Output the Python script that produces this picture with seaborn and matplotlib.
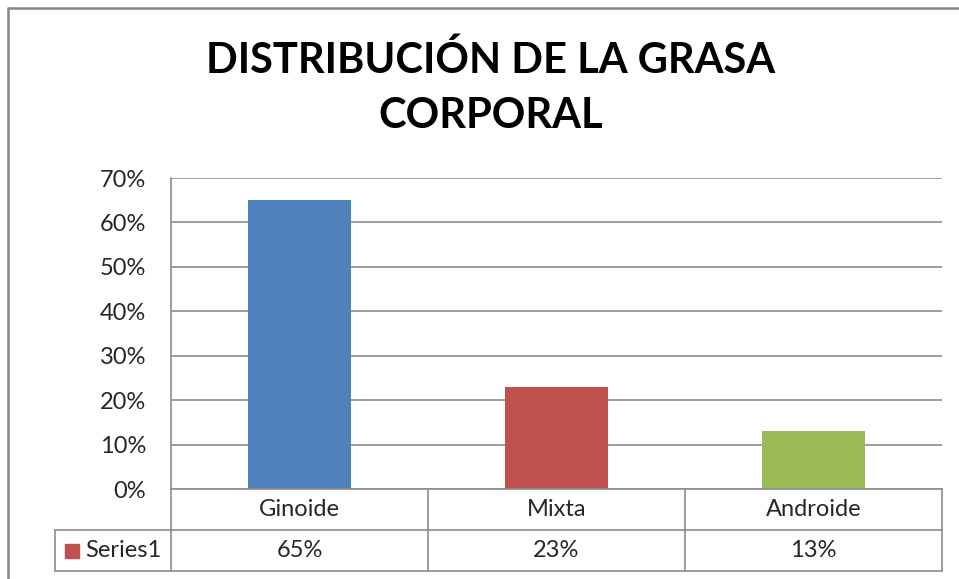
import matplotlib
matplotlib.use("Agg")
import matplotlib.pyplot as plt
from matplotlib.lines import Line2D
from matplotlib.ticker import PercentFormatter
import seaborn as sns

# Data
categories = ["Ginoide", "Mixta", "Androide"]
values = [0.65, 0.23, 0.13]
value_labels = ["65%", "23%", "13%"]
series_name = "Series1"
bar_colors = ["#4F81BD", "#C0504D", "#9BBB59"]
yticks = [0, 0.1, 0.2, 0.3, 0.4, 0.5, 0.6, 0.7]

sns.set_style("white")
plt.rcParams["font.family"] = ["Lato", "DejaVu Sans"]

grid_col = "#8C8C8C"
text_col = "#262626"
fs = 17

fig = plt.figure(figsize=(9.59, 5.79), dpi=100)
ax = fig.add_axes([171 / 959, 1 - 489 / 579, 771 / 959, 311 / 579])

sns.barplot(x=categories, y=values, hue=categories, palette=bar_colors,
            width=0.4, legend=False, saturation=1, edgecolor="none", ax=ax)

ax.set_xlim(-0.5, 2.5)
ax.set_ylim(0, 0.7)
ax.set_yticks(yticks)
ax.yaxis.set_major_formatter(PercentFormatter(1.0, decimals=0))
ax.tick_params(axis="y", length=0, pad=18, labelsize=fs, labelcolor=text_col)
ax.set_xticks([])
ax.set_xlabel("")
ax.set_ylabel("")
ax.yaxis.grid(True, color=grid_col, linewidth=1.2)
ax.set_axisbelow(True)
for s in ["top", "right", "bottom"]:
    ax.spines[s].set_visible(False)
ax.spines["left"].set_color(grid_col)
ax.spines["left"].set_linewidth(1.2)

# Data table below the plot
tr = ax.get_xaxis_transform()
r1 = -41 / 311
r2 = -82 / 311
x_left = -0.5 - 116 / 257
kw = dict(transform=tr, color=grid_col, linewidth=1.2, clip_on=False)
ax.plot([-0.5, 2.5], [0, 0], **kw)
ax.plot([x_left, 2.5], [r1, r1], **kw)
ax.plot([x_left, 2.5], [r2, r2], **kw)
ax.plot([x_left, x_left], [r1, r2], **kw)
for xb in [-0.5, 0.5, 1.5, 2.5]:
    ax.plot([xb, xb], [0, r2], **kw)

for i, (c, v) in enumerate(zip(categories, value_labels)):
    ax.text(i, r1 / 2, c, transform=tr, ha="center", va="center",
            fontsize=fs, color=text_col)
    ax.text(i, (r1 + r2) / 2, v, transform=tr, ha="center", va="center",
            fontsize=fs, color=text_col)

ax.plot([-0.5 - 99 / 257], [(r1 + r2) / 2], marker="s", markersize=9.5,
        color=bar_colors[1], transform=tr, clip_on=False)
ax.text(-0.5 - 86 / 257, (r1 + r2) / 2, series_name, transform=tr,
        ha="left", va="center", fontsize=fs, color=text_col)

# Title
fig.text(491 / 959, 1 - 88 / 579, "DISTRIBUCIÓN DE LA GRASA\nCORPORAL",
         ha="center", va="center", fontsize=30, fontweight="bold",
         color="black", linespacing=1.55)

# Chart area border (cropped at right/bottom)
fig.add_artist(Line2D([8 / 959, 8 / 959], [0, 1 - 8 / 579], color="#868686", linewidth=1.8))
fig.add_artist(Line2D([8 / 959, 1], [1 - 8 / 579, 1 - 8 / 579], color="#868686", linewidth=1.8))

fig.savefig("out.png", dpi=100)
